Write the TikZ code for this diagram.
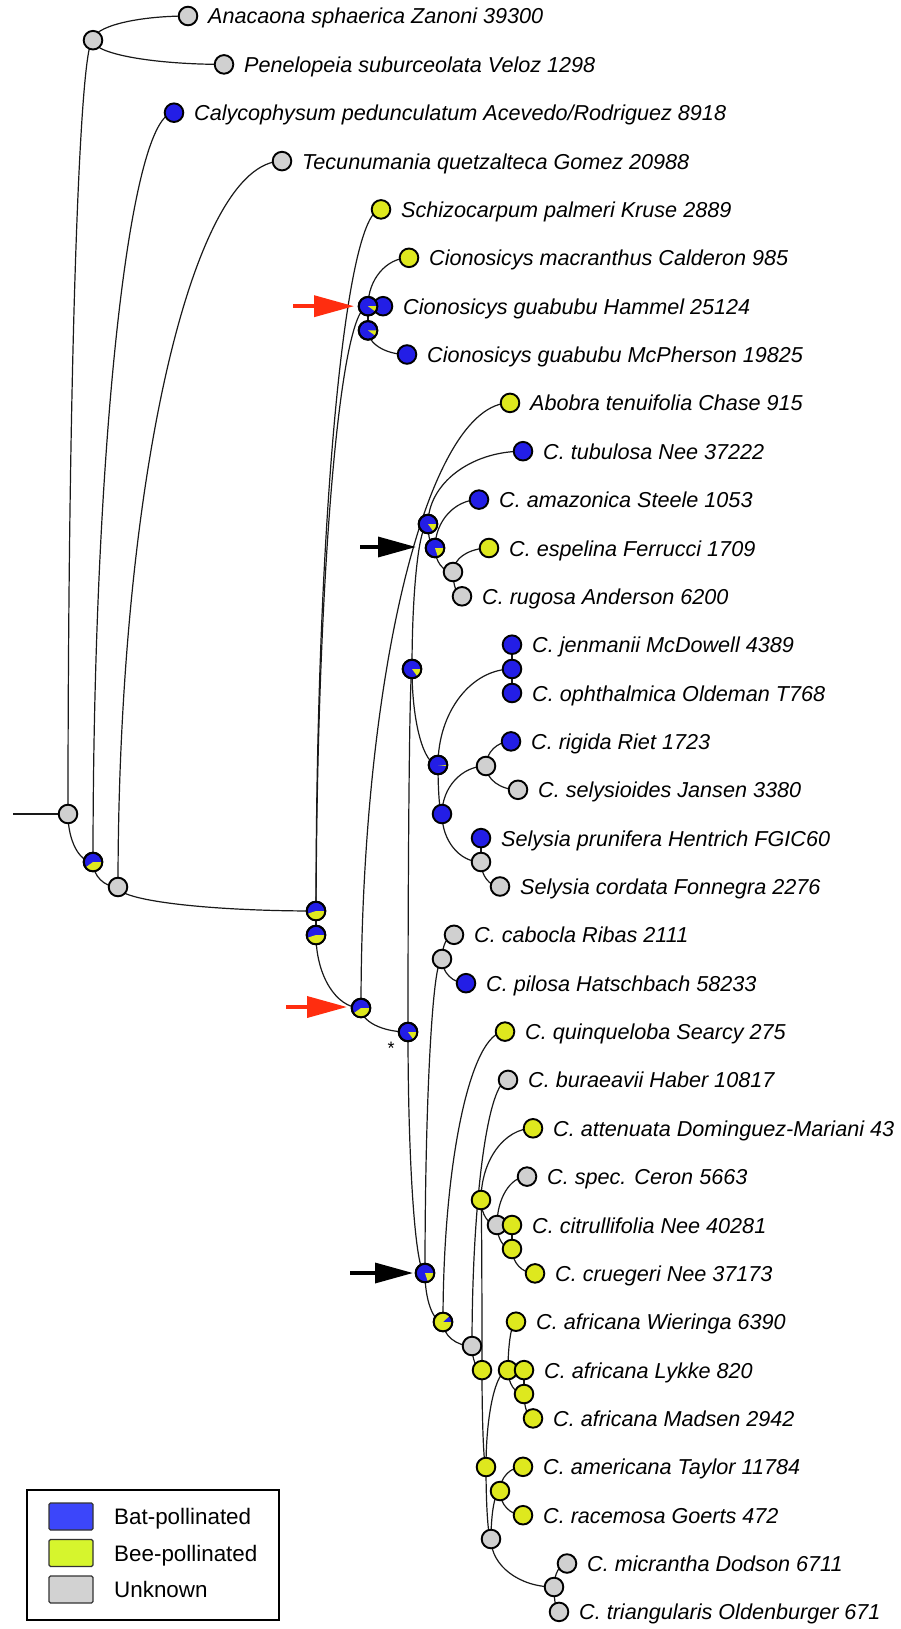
\documentclass[tikz,border=0pt]{standalone}
\usepackage{fontspec}
\setmainfont{Liberation Sans}
\usetikzlibrary{calc,arrows.meta}
\pgfdeclarelayer{bg}
\pgfsetlayers{bg,main}
\definecolor{batblue}{RGB}{35,30,230}
\definecolor{beeyel}{RGB}{222,232,30}
\definecolor{unkgray}{RGB}{208,208,208}
\definecolor{legblue}{RGB}{60,70,250}
\definecolor{legyel}{RGB}{214,245,45}
\definecolor{leggray}{RGB}{210,210,210}
\definecolor{arrred}{RGB}{255,45,15}
\tikzset{
  nd/.style={circle, draw=black, line width=1.9pt, minimum size=18.6pt, inner sep=0pt},
  lab/.style={anchor=base west, inner sep=0pt, font=\fontsize{21.6}{26}\selectfont\itshape},
  edge/.style={draw=black!90, line width=1.2pt},
  redarrow/.style={draw=arrred, line width=3.6pt, -{Triangle[length=40pt,width=21pt]}},
  blkarrow/.style={draw=black, line width=3.4pt, -{Triangle[length=38pt,width=20pt]}},
  legsq/.style={draw=black!80, line width=1.3pt, rounded corners=1.5pt, minimum width=44pt, minimum height=27pt, inner sep=0pt},
  legtext/.style={anchor=base west, inner sep=0pt, font=\fontsize{22.4}{26}\selectfont},
}
\newcommand\tipnode[5]{\node[nd,fill=#4] (#1) at (#2,#3) {}; \node[lab] (#1-l) at (#2+20,#3+8) {#5};}
\newcommand\innode[4]{\node[nd,fill=#4] (#1) at (#2,#3) {};}
\newcommand\pienode[4]{\node[nd,fill=batblue] (#1) at (#2,#3) {};
  \fill[beeyel] (#1.center) -- ++(0:9.3pt) arc[start angle=0, end angle={-(1-#4)*360}, radius=9.3pt] -- cycle;
  \draw[line width=1.9pt] (#1.center) circle[radius=9.3pt];}
\newcommand\mybr[2]{%
  \coordinate (bqa) at ($(#1.center)!0.5523!(#2.center)$);%
  \coordinate (bqb) at ($(#2.center)!0.5523!(#1.center)$);%
  \draw[edge] (#1.center) .. controls (bqa -| #1.center) and (bqb |- #2.center) .. (#2.center);}
\begin{document}
\begin{tikzpicture}[x=1pt,y=-1pt]
\useasboundingbox (0,0) rectangle (901,1629);
% tips
\tipnode{tAna}{188}{16}{unkgray}{Anacaona sphaerica Zanoni 39300}
\tipnode{tPen}{224}{64.4}{unkgray}{Penelopeia suburceolata Veloz 1298}
\tipnode{tCal}{174}{112.7}{batblue}{Calycophysum pedunculatum Acevedo/Rodriguez 8918}
\tipnode{tTec}{282}{161.1}{unkgray}{Tecunumania quetzalteca Gomez 20988}
\tipnode{tSch}{381}{209.4}{beeyel}{Schizocarpum palmeri Kruse 2889}
\tipnode{tCma}{409}{257.8}{beeyel}{Cionosicys macranthus Calderon 985}
\tipnode{tCgH}{383}{306.2}{batblue}{Cionosicys guabubu Hammel 25124}
\tipnode{tCgM}{407}{354.5}{batblue}{Cionosicys guabubu McPherson 19825}
\tipnode{tAbo}{510}{402.9}{beeyel}{Abobra tenuifolia Chase 915}
\tipnode{tTub}{523}{451.2}{batblue}{C. tubulosa Nee 37222}
\tipnode{tAma}{479}{499.6}{batblue}{C. amazonica Steele 1053}
\tipnode{tEsp}{489}{548}{beeyel}{C. espelina Ferrucci 1709}
\tipnode{tRug}{462}{596.3}{unkgray}{C. rugosa Anderson 6200}
\tipnode{tJen}{512}{644.7}{batblue}{C. jenmanii McDowell 4389}
\tipnode{tOph}{512}{693}{batblue}{C. ophthalmica Oldeman T768}
\tipnode{tRig}{511}{741.4}{batblue}{C. rigida Riet 1723}
\tipnode{tSel}{518}{789.8}{unkgray}{C. selysioides Jansen 3380}
\tipnode{tSpr}{481}{838.1}{batblue}{Selysia prunifera Hentrich FGIC60}
\tipnode{tSco}{500}{886.5}{unkgray}{Selysia cordata Fonnegra 2276}
\tipnode{tCab}{454}{934.8}{unkgray}{C. cabocla Ribas 2111}
\tipnode{tPil}{466}{983.2}{batblue}{C. pilosa Hatschbach 58233}
\tipnode{tQui}{505}{1031.6}{beeyel}{C. quinqueloba Searcy 275}
\tipnode{tBur}{508}{1079.9}{unkgray}{C. buraeavii Haber 10817}
\tipnode{tAtt}{533}{1128.3}{beeyel}{C. attenuata Dominguez-Mariani 43}
\tipnode{tSpe}{527}{1176.6}{unkgray}{C. spec. Ceron 5663}
\innode{G4}{497}{1225}{unkgray}
\tipnode{tCit}{512}{1225}{beeyel}{C. citrullifolia Nee 40281}
\tipnode{tCru}{535}{1273.4}{beeyel}{C. cruegeri Nee 37173}
\tipnode{tAfW}{516}{1321.7}{beeyel}{C. africana Wieringa 6390}
\innode{Y5}{508}{1370.1}{beeyel}
\tipnode{tAfL}{524}{1370.1}{beeyel}{C. africana Lykke 820}
\tipnode{tAfM}{533}{1418.4}{beeyel}{C. africana Madsen 2942}
\tipnode{tAmT}{523}{1466.8}{beeyel}{C. americana Taylor 11784}
\tipnode{tRac}{523}{1515.2}{beeyel}{C. racemosa Goerts 472}
\tipnode{tMic}{567}{1563.5}{unkgray}{C. micrantha Dodson 6711}
\tipnode{tTri}{559}{1611.9}{unkgray}{C. triangularis Oldenburger 671}
% internal nodes
\innode{R}{68}{814}{unkgray}
\innode{N1}{93}{40.2}{unkgray}
\pienode{N2}{93}{862}{0.6}
\innode{N3}{118}{887}{unkgray}
\pienode{N4}{316}{911}{0.55}
\pienode{N5}{316}{935}{0.55}
\pienode{Red}{361}{1008}{0.6}
\pienode{Star}{408}{1032}{0.85}
\pienode{C1}{368}{306.2}{0.9}
\pienode{C2}{368}{330.4}{0.9}
\pienode{A}{428}{524}{0.85}
\pienode{B}{435}{548}{0.8}
\pienode{U}{412}{669}{0.85}
\pienode{V}{438}{765}{0.98}
\innode{W}{442}{814}{batblue}
\innode{J}{512}{669}{batblue}
\innode{G1}{453}{572}{unkgray}
\innode{G2}{486}{766}{unkgray}
\innode{G3}{481}{862}{unkgray}
\innode{Gc}{442}{959}{unkgray}
\pienode{K}{425}{1273}{0.8}
\pienode{Y3}{443}{1322}{0.12}
\innode{G5}{472}{1346}{unkgray}
\innode{Y4}{482}{1370.1}{beeyel}
\innode{Y1}{481}{1200}{beeyel}
\innode{Y2}{512}{1249}{beeyel}
\innode{Y7}{524}{1394}{beeyel}
\innode{Y8}{486}{1467}{beeyel}
\innode{Y9}{500}{1491}{beeyel}
\innode{G6}{491}{1539}{unkgray}
\innode{G7}{554}{1587}{unkgray}
% branches
\coordinate (rootin) at (13,814);
\begin{pgfonlayer}{bg}
\draw[edge] (rootin) -- (R.center);
\mybr{R}{N1}\mybr{N1}{tAna}\mybr{N1}{tPen}
\mybr{R}{N2}\mybr{N2}{tCal}\mybr{N2}{N3}
\mybr{N3}{tTec}\mybr{N3}{N4}
\mybr{N4}{tSch}\mybr{N4}{N5}
\mybr{N5}{C1}\mybr{C1}{tCma}\mybr{C1}{tCgH}\mybr{C1}{C2}\mybr{C2}{tCgM}
\mybr{N5}{Red}\mybr{Red}{tAbo}\mybr{Red}{Star}
\mybr{Star}{U}\mybr{U}{A}\mybr{A}{tTub}\mybr{A}{B}\mybr{B}{tAma}\mybr{B}{G1}
\mybr{G1}{tEsp}\mybr{G1}{tRug}
\mybr{U}{V}\mybr{V}{J}\mybr{J}{tJen}\mybr{J}{tOph}\mybr{V}{W}
\mybr{W}{G2}\mybr{G2}{tRig}\mybr{G2}{tSel}\mybr{W}{G3}\mybr{G3}{tSpr}\mybr{G3}{tSco}
\mybr{Star}{K}\mybr{K}{Gc}\mybr{Gc}{tCab}\mybr{Gc}{tPil}
\mybr{K}{Y3}\mybr{Y3}{tQui}\mybr{Y3}{G5}\mybr{G5}{tBur}\mybr{G5}{Y4}
\mybr{Y4}{Y1}\mybr{Y1}{tAtt}\mybr{Y1}{G4}\mybr{G4}{tSpe}\mybr{G4}{Y2}\mybr{Y2}{tCit}\mybr{Y2}{tCru}
\mybr{Y4}{Y8}\mybr{Y8}{Y5}\mybr{Y5}{tAfW}\mybr{Y5}{Y7}\mybr{Y7}{tAfL}\mybr{Y7}{tAfM}
\mybr{Y8}{G6}\mybr{G6}{Y9}\mybr{Y9}{tAmT}\mybr{Y9}{tRac}
\mybr{G6}{G7}\mybr{G7}{tMic}\mybr{G7}{tTri}
\end{pgfonlayer}
% arrows
\coordinate (r1a) at (293,306.2); \coordinate (r1b) at (354,306.2);
\coordinate (r2a) at (286,1007); \coordinate (r2b) at (347,1007);
\coordinate (b1a) at (360,547); \coordinate (b1b) at (416,547);
\coordinate (b2a) at (350,1273); \coordinate (b2b) at (413,1273);
\draw[redarrow] (r1a) -- (r1b);
\draw[redarrow] (r2a) -- (r2b);
\draw[blkarrow] (b1a) -- (b1b);
\draw[blkarrow] (b2a) -- (b2b);
\node[anchor=base, inner sep=0pt, font=\fontsize{18}{20}\selectfont] (ast) at (391,1054) {*};
% legend
\node[draw=black, line width=2.4pt, fill=white, minimum width=252pt, minimum height=130pt, inner sep=0pt, anchor=north west] (legend) at (26,1489) {};
\node[legsq, fill=legblue] (kbat) at (71,1516.5) {};
\node[legsq, fill=legyel] (kbee) at (71,1553) {};
\node[legsq, fill=leggray] (kunk) at (71,1589.5) {};
\node[legtext] (lbat) at (114,1524.5) {Bat-pollinated};
\node[legtext] (lbee) at (114,1561) {Bee-pollinated};
\node[legtext] (lunk) at (114,1597.5) {Unknown};
\end{tikzpicture}
\end{document}
